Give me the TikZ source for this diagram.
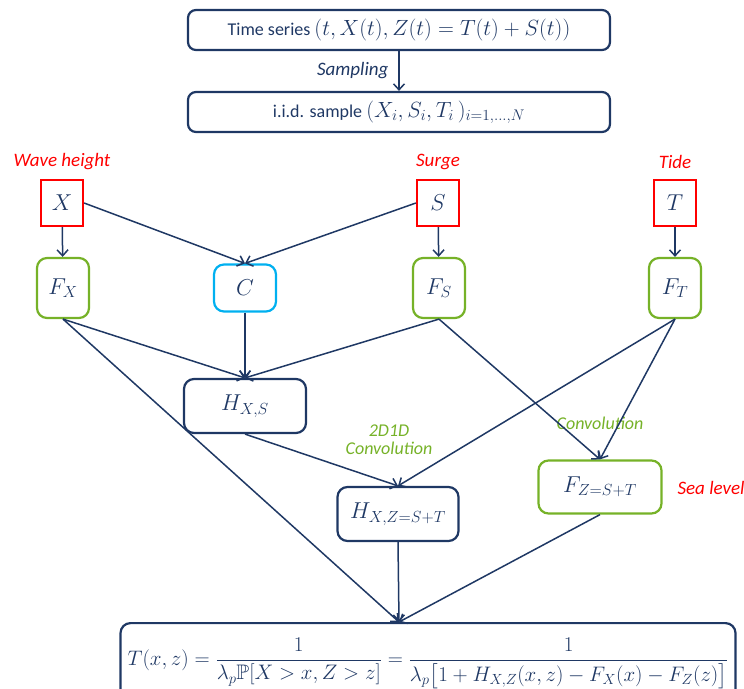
\RequirePackage{fix-cm}
\documentclass[tikz,border=0pt]{standalone}
\usepackage{amsmath,amssymb}
\usepackage[no-math]{fontspec}
\setmainfont{Carlito}
\usetikzlibrary{arrows.meta}
\definecolor{navy}{RGB}{31,56,100}
\definecolor{lgreen}{RGB}{118,178,40}
\definecolor{lblue}{RGB}{0,176,240}
\newcommand{\bigmath}[1]{{\fontsize{22}{24}\selectfont$#1$}}
\tikzset{
  topbox/.style={draw=navy, line width=2.2pt, rounded corners=8pt, text=navy,
    minimum width=422pt, minimum height=40pt, inner sep=0pt, font=\fontsize{18}{20}\selectfont},
  varbox/.style={draw=red, line width=2.2pt, minimum width=42pt, minimum height=46pt,
    inner sep=0pt, text=navy, font=\fontsize{23}{25}\selectfont},
  distbox/.style={draw=lgreen, line width=2.2pt, rounded corners=10pt, minimum width=52pt,
    minimum height=60pt, inner sep=0pt, text=navy, font=\fontsize{23}{25}\selectfont},
  copbox/.style={draw=lblue, line width=2.2pt, rounded corners=10pt, minimum width=62pt,
    minimum height=47pt, inner sep=0pt, text=navy, font=\fontsize{23}{25}\selectfont},
  jointbox/.style={draw=navy, line width=2.2pt, rounded corners=10pt,
    inner sep=0pt, text=navy, font=\fontsize{23}{25}\selectfont},
  arr/.style={draw=navy, line width=1.5pt, -{Straight Barb[length=6pt,width=11pt]}},
  redlab/.style={text=red, font=\fontsize{19}{21}\selectfont\itshape},
  greenlab/.style={text=lgreen, font=\fontsize{18}{20}\selectfont\itshape, align=center},
  navylab/.style={text=navy, font=\fontsize{19}{21}\selectfont\itshape},
}
\begin{document}
\begin{tikzpicture}[x=1pt,y=-1pt]
\useasboundingbox (0,0) rectangle (744,688);
% top boxes
\node[topbox] (ts) at (399,30) {Time series \bigmath{(t,X(t),Z(t)=T(t)+S(t))}};
\node[topbox] (iid) at (399,112) {i.i.d. sample \bigmath{(X_i,S_i,T_i\,)_{i=1,\ldots,N}}};
\draw[arr] (ts) -- (iid);
\node[navylab, anchor=east] (samp) at (392,71) {Sampling};
% variables
\node[varbox] (X) at (62,203) {$X$};
\node[varbox] (S) at (438,203) {$S$};
\node[varbox] (T) at (675,203) {$T$};
\node[redlab] (lw) at (62,162) {Wave height};
\node[redlab] (ls) at (438,162) {Surge};
\node[redlab] (lt) at (675,162) {Tide};
% marginals and copula
\node[distbox] (FX) at (63,288) {$F_X$};
\node[copbox] (C) at (245,288) {$C$};
\node[distbox] (FS) at (439,288) {$F_S$};
\node[distbox] (FT) at (675,288) {$F_T$};
% joint
\node[jointbox, minimum width=122pt, minimum height=54pt] (HXS) at (245,406) {$H_{X,S}$};
\node[jointbox, minimum width=121pt, minimum height=54pt] (HXZ) at (398,514) {$H_{X,Z=S+T}$};
\node[distbox, minimum width=123pt, minimum height=53pt] (FZ) at (600,487) {$F_{Z=S+T}$};
\node[redlab, anchor=west] (lsea) at (674,488) {Sea level};
\node[greenlab] (lconv) at (600,423) {Convolution};
\node[greenlab] (l2d) at (389,440) {2D1D\\[-2pt]Convolution};
% bottom box
\node[jointbox, minimum width=615pt, minimum height=80pt, anchor=north, font=\fontsize{21}{23}\selectfont] (RP) at (428,622)
  {$\displaystyle T(x,z)=\frac{1}{\lambda_p\mathbb{P}[X>x,Z>z]}=\frac{1}{\lambda_p\bigl[1+H_{X,Z}(x,z)-F_X(x)-F_Z(z)\bigr]}$};
\coordinate (in) at (399,622);
% edges
\draw[arr] (X) -- (FX);
\draw[arr] (S) -- (FS);
\draw[arr] (T) -- (FT);
\draw[arr] (X.east) -- (C.north);
\draw[arr] (S.west) -- (C.north);
\draw[arr] (C) -- (HXS);
\draw[arr] (FX.south) -- (HXS.north);
\draw[arr] (FS.south) -- (HXS.north);
\draw[arr] (HXS.south) -- (HXZ.north);
\draw[arr] (FT.south) -- (HXZ.north);
\draw[arr] (FS.south) -- (FZ.north);
\draw[arr] (FT.south) -- (FZ.north);
\draw[arr] (FX.south) -- (in);
\draw[arr] (HXZ.south) -- (in);
\draw[arr] (FZ.south) -- (in);
\end{tikzpicture}
\end{document}
